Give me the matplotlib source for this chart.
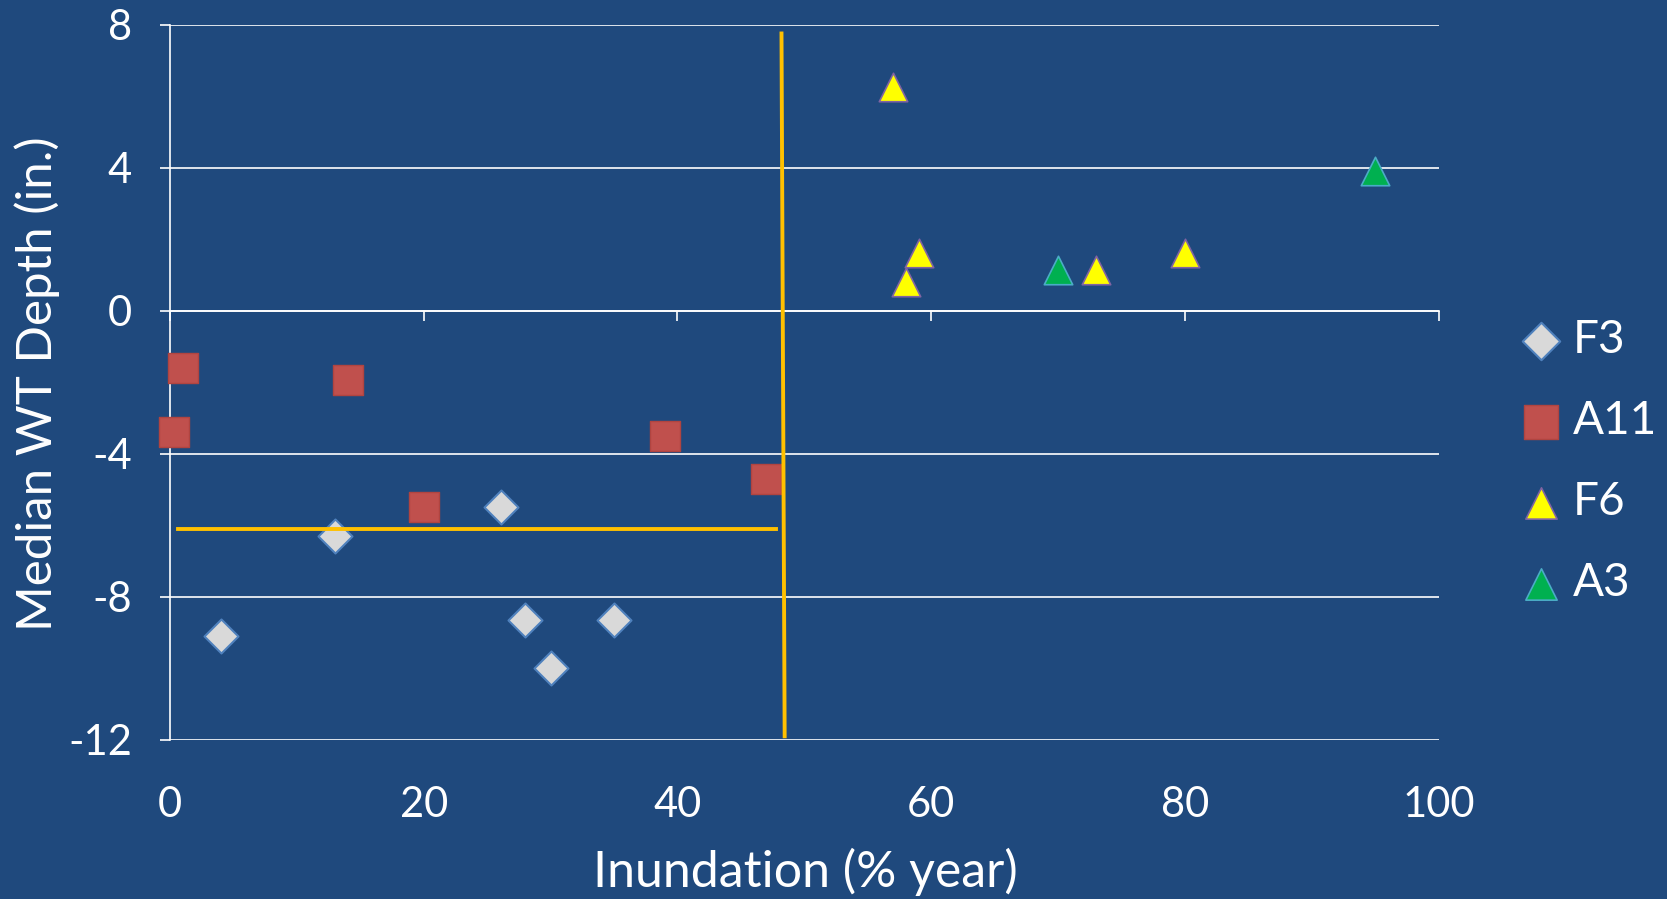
import matplotlib.pyplot as plt

plt.rcParams['font.family'] = ['Lato', 'DejaVu Sans']

bg = '#1F497D'

# site groups: inundation (% of year) vs median water-table depth (in.)
f3_x = [4.0, 13.0, 26.1, 28.0, 30.0, 35.0]
f3_y = [-9.1, -6.3, -5.5, -8.65, -10.0, -8.65]

a11_x = [1.0, 0.3, 14.0, 20.0, 39.0, 47.0]
a11_y = [-1.6, -3.4, -1.95, -5.5, -3.5, -4.7]

f6_x = [57.0, 59.0, 58.0, 73.0, 80.0]
f6_y = [6.25, 1.6, 0.8, 1.15, 1.6]

a3_x = [70.0, 95.0]
a3_y = [1.15, 3.9]

# threshold guide lines
h_line_x = [0.6, 47.8]
h_line_y = [-6.1, -6.1]
v_line_x = [48.2, 48.45]
v_line_y = [7.75, -11.9]

xticks = [0, 20, 40, 60, 80, 100]
yticks = [-12, -8, -4, 0, 4, 8]

fig = plt.figure(figsize=(16.67, 8.99), dpi=100, facecolor=bg)
ax = fig.add_axes([0.102, 0.177, 0.761, 0.7957])
ax.set_facecolor(bg)
ax.set_xlim(0, 100)
ax.set_ylim(-12, 8)

ax.set_yticks(yticks)
ax.set_yticklabels([str(v) for v in yticks])
ax.yaxis.grid(True, color='white', lw=1.2)
ax.set_axisbelow(True)

for s in ['top', 'right']:
    ax.spines[s].set_visible(False)
ax.spines['bottom'].set_position(('data', 0))
ax.spines['bottom'].set_color('white')
ax.spines['bottom'].set_linewidth(1.2)
ax.spines['left'].set_color('white')
ax.spines['left'].set_linewidth(1.2)

ax.set_xticks(xticks)
ax.tick_params(axis='x', direction='out', length=7, width=1.2, color='white', labelbottom=False)
ax.tick_params(axis='y', direction='out', length=7.5, width=1.2, color='white',
               labelcolor='white', labelsize=30, pad=20)

# tick labels sit at the bottom while the axis line crosses at 0
sec = ax.secondary_xaxis('bottom')
sec.set_xticks(xticks)
sec.set_xticklabels([str(v) for v in xticks])
sec.tick_params(length=0, labelsize=30, labelcolor='white', pad=33)
sec.spines['bottom'].set_visible(False)

ax.scatter(f3_x, f3_y, marker='D', s=300, color='#D9D9D9', edgecolor='#4F81BD',
           linewidth=1.5, label='F3', zorder=3, clip_on=False)
ax.scatter(a11_x, a11_y, marker='s', s=490, color='#C0504D', edgecolor='#B04440',
           linewidth=1, label='A11', zorder=3, clip_on=False)
ax.scatter(f6_x, f6_y, marker='^', s=420, color='#FFFF00', edgecolor='#8064A2',
           linewidth=1.2, label='F6', zorder=3, clip_on=False)
ax.scatter(a3_x, a3_y, marker='^', s=420, color='#00B050', edgecolor='#4BACC6',
           linewidth=1.2, label='A3', zorder=3, clip_on=False)

ax.plot(h_line_x, h_line_y, color='#FFC000', lw=2.8, zorder=4)
ax.plot(v_line_x, v_line_y, color='#FFC000', lw=2.8, zorder=4, clip_on=False)

ax.legend(loc='center left', bbox_to_anchor=(0.897, 0.487), bbox_transform=fig.transFigure,
          frameon=False, fontsize=33, labelcolor='white', handletextpad=0.2,
          labelspacing=0.85, handlelength=1.0, borderpad=0, markerscale=1.1)

fig.text(0.483, 0.030, 'Inundation (% year)', color='white', fontsize=36,
         ha='center', va='center')
fig.text(0.0223, 0.573, 'Median WT Depth (in.)', color='white', fontsize=35.5,
         ha='center', va='center', rotation=90)

fig.savefig('out.png', dpi=100, facecolor=bg)
